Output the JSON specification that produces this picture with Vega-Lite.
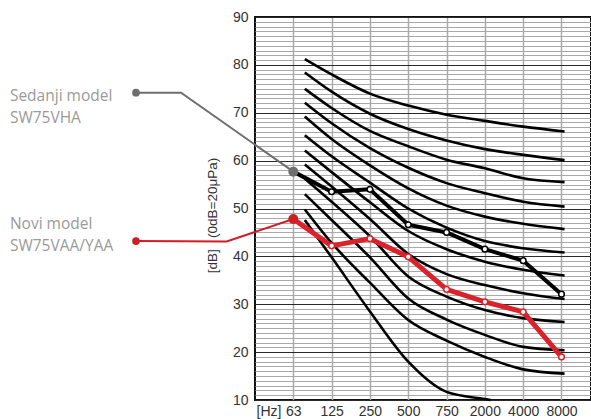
{
  "$schema": "https://vega.github.io/schema/vega-lite/v6.json",
  "autosize": {"type": "none"},
  "padding": {"left": 255, "top": 17, "right": 0, "bottom": 19},
  "width": 336,
  "height": 383,
  "background": "white",
  "config": {
    "view": {"stroke": "#111", "strokeWidth": 2},
    "font": "Liberation Sans"
  },
  "resolve": {"axis": {"y": "independent"}},
  "datasets": {
    "curves": [
      {"curve": "C1", "pos": 1.3, "db": 81.2}, {"curve": "C1", "pos": 2, "db": 78.0}, {"curve": "C1", "pos": 3, "db": 74.0}, {"curve": "C1", "pos": 4, "db": 71.5}, {"curve": "C1", "pos": 5, "db": 69.6}, {"curve": "C1", "pos": 6, "db": 68.3}, {"curve": "C1", "pos": 7, "db": 67.1}, {"curve": "C1", "pos": 8.08, "db": 66.1},
      {"curve": "C2", "pos": 1.3, "db": 78.4}, {"curve": "C2", "pos": 2, "db": 74.4}, {"curve": "C2", "pos": 3, "db": 69.8}, {"curve": "C2", "pos": 4, "db": 66.6}, {"curve": "C2", "pos": 5, "db": 64.2}, {"curve": "C2", "pos": 6, "db": 62.4}, {"curve": "C2", "pos": 7, "db": 61.2}, {"curve": "C2", "pos": 8.08, "db": 60.1},
      {"curve": "C3", "pos": 1.3, "db": 75.0}, {"curve": "C3", "pos": 2, "db": 71.0}, {"curve": "C3", "pos": 3, "db": 66.2}, {"curve": "C3", "pos": 4, "db": 63.0}, {"curve": "C3", "pos": 5, "db": 60.2}, {"curve": "C3", "pos": 6, "db": 58.4}, {"curve": "C3", "pos": 7, "db": 56.3}, {"curve": "C3", "pos": 8.08, "db": 55.5},
      {"curve": "C4", "pos": 1.3, "db": 72.1}, {"curve": "C4", "pos": 2, "db": 67.8}, {"curve": "C4", "pos": 3, "db": 62.6}, {"curve": "C4", "pos": 4, "db": 58.5}, {"curve": "C4", "pos": 5, "db": 55.3}, {"curve": "C4", "pos": 6, "db": 53.2}, {"curve": "C4", "pos": 7, "db": 51.4}, {"curve": "C4", "pos": 8.08, "db": 50.4},
      {"curve": "C5", "pos": 1.3, "db": 69.2}, {"curve": "C5", "pos": 2, "db": 64.5}, {"curve": "C5", "pos": 3, "db": 59.0}, {"curve": "C5", "pos": 4, "db": 54.2}, {"curve": "C5", "pos": 5, "db": 50.6}, {"curve": "C5", "pos": 6, "db": 48.3}, {"curve": "C5", "pos": 7, "db": 46.8}, {"curve": "C5", "pos": 8.08, "db": 45.7},
      {"curve": "C6", "pos": 1.3, "db": 65.3}, {"curve": "C6", "pos": 2, "db": 60.9}, {"curve": "C6", "pos": 3, "db": 55.4}, {"curve": "C6", "pos": 4, "db": 50.0}, {"curve": "C6", "pos": 5, "db": 46.0}, {"curve": "C6", "pos": 6, "db": 43.2}, {"curve": "C6", "pos": 7, "db": 41.7}, {"curve": "C6", "pos": 8.08, "db": 40.8},
      {"curve": "C7", "pos": 1.3, "db": 62.1}, {"curve": "C7", "pos": 2, "db": 57.6}, {"curve": "C7", "pos": 3, "db": 51.3}, {"curve": "C7", "pos": 4, "db": 45.3}, {"curve": "C7", "pos": 5, "db": 41.5}, {"curve": "C7", "pos": 6, "db": 38.9}, {"curve": "C7", "pos": 7, "db": 37.2}, {"curve": "C7", "pos": 8.08, "db": 36.0},
      {"curve": "C8", "pos": 1.3, "db": 59.2}, {"curve": "C8", "pos": 2, "db": 54.6}, {"curve": "C8", "pos": 3, "db": 47.8}, {"curve": "C8", "pos": 4, "db": 40.5}, {"curve": "C8", "pos": 5, "db": 36.3}, {"curve": "C8", "pos": 6, "db": 34.0}, {"curve": "C8", "pos": 7, "db": 32.3}, {"curve": "C8", "pos": 8.08, "db": 31.1},
      {"curve": "C9", "pos": 1.3, "db": 56.2}, {"curve": "C9", "pos": 2, "db": 51.4}, {"curve": "C9", "pos": 3, "db": 44.2}, {"curve": "C9", "pos": 4, "db": 35.8}, {"curve": "C9", "pos": 5, "db": 31.6}, {"curve": "C9", "pos": 6, "db": 28.8}, {"curve": "C9", "pos": 7, "db": 27.1}, {"curve": "C9", "pos": 8.08, "db": 26.3},
      {"curve": "C10", "pos": 1.3, "db": 53.0}, {"curve": "C10", "pos": 2, "db": 47.6}, {"curve": "C10", "pos": 3, "db": 39.8}, {"curve": "C10", "pos": 4, "db": 31.2}, {"curve": "C10", "pos": 5, "db": 26.8}, {"curve": "C10", "pos": 6, "db": 23.6}, {"curve": "C10", "pos": 7, "db": 21.1}, {"curve": "C10", "pos": 8.08, "db": 20.4},
      {"curve": "C11", "pos": 1.3, "db": 49.8}, {"curve": "C11", "pos": 2, "db": 42.8}, {"curve": "C11", "pos": 3, "db": 34.5}, {"curve": "C11", "pos": 4, "db": 26.7}, {"curve": "C11", "pos": 5, "db": 22.4}, {"curve": "C11", "pos": 6, "db": 19.0}, {"curve": "C11", "pos": 7, "db": 16.4}, {"curve": "C11", "pos": 8.08, "db": 15.5},
      {"curve": "C12", "pos": 1.3, "db": 47.6}, {"curve": "C12", "pos": 2, "db": 39.8}, {"curve": "C12", "pos": 3, "db": 28.5}, {"curve": "C12", "pos": 4, "db": 18.0}, {"curve": "C12", "pos": 5, "db": 11.7}, {"curve": "C12", "pos": 6, "db": 10.2}, {"curve": "C12", "pos": 6.15, "db": 10.0}
    ],
    "series": [
      {"model": "old", "freq": "63", "pos": 1, "db": 57.7}, {"model": "old", "freq": "125", "pos": 2, "db": 53.5}, {"model": "old", "freq": "250", "pos": 3, "db": 54.0}, {"model": "old", "freq": "500", "pos": 4, "db": 46.6}, {"model": "old", "freq": "750", "pos": 5, "db": 45.0}, {"model": "old", "freq": "2000", "pos": 6, "db": 41.5}, {"model": "old", "freq": "4000", "pos": 7, "db": 39.1}, {"model": "old", "freq": "8000", "pos": 8, "db": 32.1},
      {"model": "new", "freq": "63", "pos": 1, "db": 47.8}, {"model": "new", "freq": "125", "pos": 2, "db": 42.2}, {"model": "new", "freq": "250", "pos": 3, "db": 43.7}, {"model": "new", "freq": "500", "pos": 4, "db": 39.9}, {"model": "new", "freq": "750", "pos": 5, "db": 33.1}, {"model": "new", "freq": "2000", "pos": 6, "db": 30.5}, {"model": "new", "freq": "4000", "pos": 7, "db": 28.4}, {"model": "new", "freq": "8000", "pos": 8, "db": 19.0}
    ],
    "leaders": [
      {"model": "old", "step": 1, "pos": -3.106, "db": 74.2}, {"model": "old", "step": 2, "pos": -1.93, "db": 74.2}, {"model": "old", "step": 3, "pos": 1, "db": 57.7},
      {"model": "new", "step": 1, "pos": -3.106, "db": 43.2}, {"model": "new", "step": 2, "pos": -0.74, "db": 43.1}, {"model": "new", "step": 3, "pos": 1, "db": 47.8}
    ],
    "labels": [
      {"text": "Sedanji model", "pos": -6.397, "db": 72.35},
      {"text": "SW75VHA", "pos": -6.397, "db": 67.8},
      {"text": "Novi model", "pos": -6.397, "db": 45.72},
      {"text": "SW75VAA/YAA", "pos": -6.397, "db": 41.12}
    ]
  },
  "layer": [
    {
      "data": {"name": "series"},
      "transform": [{"filter": "datum.model === 'old'"}],
      "mark": {"type": "line", "color": "#000", "strokeWidth": 4, "opacity": 0},
      "encoding": {
        "x": {
          "field": "pos", "type": "quantitative",
          "scale": {"domain": [0, 8.77], "nice": false, "zero": false},
          "axis": {
            "values": [1, 2, 3, 4, 5, 6, 7, 8],
            "labelExpr": "['','63','125','250','500','750','2000','4000','8000'][datum.value]",
            "grid": true, "gridColor": "#aaaaaa", "gridWidth": 1.5,
            "domain": false, "ticks": false,
            "labelFont": "Liberation Sans", "labelFontSize": 14, "labelColor": "#333", "labelPadding": 4,
            "labelFlush": false, "labelOverlap": false,
            "title": "[Hz]", "titleFont": "Liberation Sans", "titleFontSize": 14, "titleFontWeight": "normal", "titleColor": "#333",
            "titleAnchor": "start", "titleAlign": "left", "titleBaseline": "top", "titleX": 1, "titleY": 4
          }
        },
        "y": {
          "field": "db", "type": "quantitative",
          "scale": {"domain": [10, 90], "nice": false, "zero": false},
          "axis": {
            "orient": "left",
            "values": [11,12,13,14,15,16,17,18,19,21,22,23,24,25,26,27,28,29,31,32,33,34,35,36,37,38,39,41,42,43,44,45,46,47,48,49,51,52,53,54,55,56,57,58,59,61,62,63,64,65,66,67,68,69,71,72,73,74,75,76,77,78,79,81,82,83,84,85,86,87,88,89],
            "labels": false, "ticks": false, "domain": false, "title": null,
            "grid": true, "gridColor": "#a9a9a9", "gridWidth": 1
          }
        }
      }
    },
    {
      "data": {"name": "curves"},
      "mark": {"type": "line", "color": "#000", "strokeWidth": 2.6, "interpolate": "monotone", "strokeCap": "butt"},
      "encoding": {
        "x": {"field": "pos", "type": "quantitative"},
        "y": {
          "field": "db", "type": "quantitative",
          "axis": {
            "orient": "left",
            "values": [10, 20, 30, 40, 50, 60, 70, 80, 90],
            "grid": true, "gridColor": "#2a2a2a", "gridWidth": 1.2,
            "domain": false, "ticks": false,
            "labelFont": "Liberation Sans", "labelFontSize": 14, "labelColor": "#333", "labelPadding": 7,
            "labelFlush": false, "labelOverlap": false,
            "title": "[dB]\u00a0\u00a0\u00a0(0dB=20μPa)", "titleFont": "Liberation Sans", "titleFontSize": 13.5, "titleFontWeight": "normal", "titleColor": "#333",
            "titlePadding": 13, "titleY": 198
          }
        },
        "detail": {"field": "curve", "type": "nominal"},
        "order": {"field": "pos", "type": "quantitative"}
      }
    },
    {
      "data": {"name": "series"},
      "transform": [{"filter": "datum.model === 'old'"}],
      "mark": {"type": "line", "color": "#000", "strokeWidth": 4, "strokeJoin": "round"},
      "encoding": {
        "x": {"field": "pos", "type": "quantitative"},
        "y": {"field": "db", "type": "quantitative", "axis": null},
        "order": {"field": "pos", "type": "quantitative"}
      }
    },
    {
      "data": {"name": "series"},
      "transform": [{"filter": "datum.model === 'new'"}],
      "mark": {"type": "line", "color": "#d9222a", "strokeWidth": 5, "strokeJoin": "round"},
      "encoding": {
        "x": {"field": "pos", "type": "quantitative"},
        "y": {"field": "db", "type": "quantitative", "axis": null},
        "order": {"field": "pos", "type": "quantitative"}
      }
    },
    {
      "data": {"name": "leaders"},
      "mark": {"type": "line", "strokeWidth": 2},
      "encoding": {
        "x": {"field": "pos", "type": "quantitative"},
        "y": {"field": "db", "type": "quantitative", "axis": null},
        "color": {"field": "model", "type": "nominal", "scale": {"domain": ["old", "new"], "range": ["#6e6e6e", "#d01e26"]}, "legend": null},
        "order": {"field": "step", "type": "quantitative"}
      }
    },
    {
      "data": {"name": "leaders"},
      "transform": [{"filter": "datum.step !== 2"}],
      "mark": {"type": "circle", "opacity": 1},
      "encoding": {
        "x": {"field": "pos", "type": "quantitative"},
        "y": {"field": "db", "type": "quantitative", "axis": null},
        "color": {"field": "model", "type": "nominal", "scale": {"domain": ["old", "new"], "range": ["#6e6e6e", "#d01e26"]}, "legend": null},
        "size": {"condition": {"test": "datum.step === 3", "value": 100}, "value": 60}
      }
    },
    {
      "data": {"name": "series"},
      "transform": [{"filter": "datum.pos > 1"}],
      "mark": {"type": "point", "filled": true, "fill": "white", "strokeWidth": 1.5, "size": 32, "opacity": 1},
      "encoding": {
        "x": {"field": "pos", "type": "quantitative"},
        "y": {"field": "db", "type": "quantitative", "axis": null},
        "stroke": {"field": "model", "type": "nominal", "scale": {"domain": ["old", "new"], "range": ["#000", "#d9222a"]}, "legend": null}
      }
    },
    {
      "data": {"name": "labels"},
      "mark": {"type": "text", "align": "left", "baseline": "alphabetic", "font": "Open Sans", "fontSize": 15.5, "color": "#9a9a9a"},
      "encoding": {
        "x": {"field": "pos", "type": "quantitative"},
        "y": {"field": "db", "type": "quantitative", "axis": null},
        "text": {"field": "text", "type": "nominal"}
      }
    }
  ]
}
